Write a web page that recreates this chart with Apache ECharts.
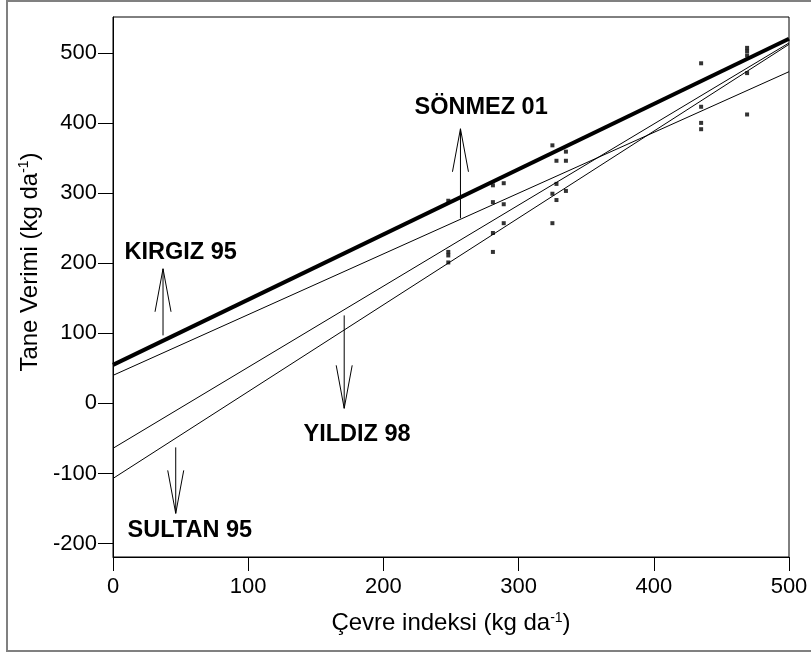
<!DOCTYPE html>
<html><head><meta charset="utf-8">
<script src="https://cdn.jsdelivr.net/npm/echarts@6/dist/echarts.min.js"></script>
<style>html,body{margin:0;padding:0;background:#fff}#c{width:811px;height:654px}</style>
</head><body><div id="c"></div>
<script>
// Scatter observations: environment index (x) and grain yield (y)
const pointX = [248,248,248,248, 281,281,281,281, 289,289,289, 325,325,325, 328,328,328, 335,335,335, 435,435,435,435, 469,469,469,469,469];
const pointY = [289,216,211,201, 311,287,243,216, 314,284,257, 368,299,257, 346,313,290, 359,346,303, 485,423,400,391, 507,502,496,471,412];

// Regression lines (value at x=0 and x=500)
const lineNames = ['SÖNMEZ 01','KIRGIZ 95','YILDIZ 98','SULTAN 95'];
const lineX = [0, 500];
const lineStart = [55, 40, -64, -107];
const lineEnd = [520, 473, 514, 512];
const lineWidths = [4, 1, 1, 1];

// Annotation arrows: x, tail y, tip y
const arrowX = [37, 257, 171, 46.4];
const arrowTail = [97, 264, 125.5, -62.7];
const arrowTip = [192, 391.6, -7, -156.8];
// Annotation labels
const labelText = ['KIRGIZ 95','SÖNMEZ 01','YILDIZ 98','SULTAN 95'];
const labelX = [50.1, 272.3, 180.5, 56.8];
const labelY = [215.7, 422.4, -44.2, -181];

const yTicks = [-200,-100,0,100,200,300,400,500];

const font = 'Liberation Sans, Arial, sans-serif';
const chart = echarts.init(document.getElementById('c'), null, {renderer:'canvas'});

const series = [];
lineNames.forEach((n,i)=>{
  series.push({
    type:'line', name:n, silent:true, symbol:'none', animation:false,
    data:[[lineX[0], lineStart[i]],[lineX[1], lineEnd[i]]],
    lineStyle:{color:'#000', width:lineWidths[i]}, z: i===0?5:3
  });
});
series.push({
  type:'scatter', symbol:'rect', symbolSize:4, animation:false,
  itemStyle:{color:'#000'},
  data: pointX.map((x,i)=>[x, pointY[i]]), z:6
});
series.push({
  type:'custom', animation:false, silent:true,
  data: arrowX.map((x,i)=>[x, arrowTail[i], arrowTip[i]]),
  renderItem:(params, api)=>{
    const p0 = api.coord([api.value(0), api.value(1)]);
    const p1 = api.coord([api.value(0), api.value(2)]);
    const dir = p0[1] > p1[1] ? 1 : -1;
    const hl = 43, hw = 8;
    return {type:'group', children:[
      {type:'line', shape:{x1:p0[0],y1:p0[1],x2:p1[0],y2:p1[1]}, style:{stroke:'#000', lineWidth:1}},
      {type:'polyline', shape:{points:[[p1[0]-hw,p1[1]+dir*hl],[p1[0],p1[1]],[p1[0]+hw,p1[1]+dir*hl]]}, style:{stroke:'#000', lineWidth:1, fill:null}}
    ]};
  }, z:7
});
series.push({
  type:'custom', animation:false, silent:true,
  data: labelX.map((x,i)=>[x, labelY[i], i]),
  renderItem:(params, api)=>{
    const p = api.coord([api.value(0), api.value(1)]);
    return {type:'text', x:p[0], y:p[1], style:{text:labelText[api.value(2)], font:'bold 23.5px '+font, fill:'#000', align:'center', verticalAlign:'middle'}};
  }, z:8
});

const supRich = {s:{fontSize:14, fontFamily:font, color:'#000', verticalAlign:'top', padding:[0,0,11,0]}};
chart.setOption({
  animation:false,
  backgroundColor:'#fff',
  grid:{left:113, right:22, top:17, bottom:97, show:true, borderColor:'#000', borderWidth:1, backgroundColor:'transparent'},
  xAxis:{type:'value', min:0, max:500, interval:100,
    name:'Çevre indeksi (kg da{s|-1})', nameLocation:'middle', nameGap:54,
    nameTextStyle:{fontFamily:font, fontSize:24, color:'#000', rich:supRich},
    axisLine:{show:true, onZero:false, lineStyle:{color:'#000', width:1}},
    axisTick:{show:true, length:14, lineStyle:{color:'#000'}},
    axisLabel:{fontFamily:font, fontSize:22, color:'#000', margin:19},
    splitLine:{show:false}},
  yAxis:{type:'value', min:-219, max:551,
    name:'Tane Verimi (kg da{s|-1})', nameLocation:'middle', nameGap:66, nameRotate:90,
    nameTextStyle:{fontFamily:font, fontSize:24, color:'#000', padding:[0,0,0,50], rich:supRich},
    axisLine:{show:true, onZero:false, lineStyle:{color:'#000', width:1}},
    axisTick:{show:true, length:15, customValues:yTicks, lineStyle:{color:'#000'}},
    axisLabel:{fontFamily:font, fontSize:22, color:'#000', margin:16, customValues:yTicks},
    splitLine:{show:false}},
  graphic:[{type:'rect', shape:{x:7, y:1, width:830, height:650}, style:{stroke:'#808080', lineWidth:2, fill:null}, silent:true, z:-1}],
  series
});
</script></body></html>
